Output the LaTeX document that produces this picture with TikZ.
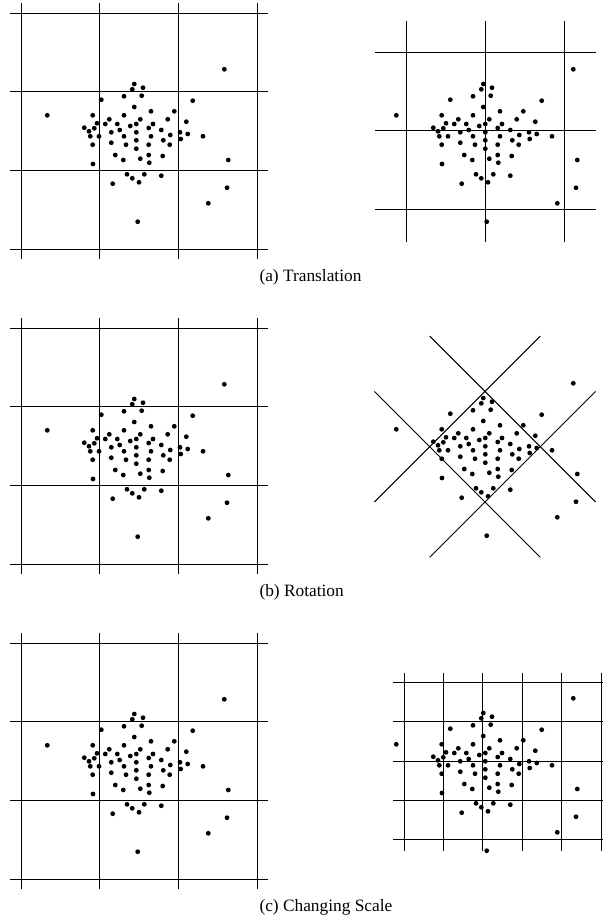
\documentclass[tikz,border=0pt]{standalone}
\usepackage{fontspec}
\setmainfont{Liberation Serif}
\usetikzlibrary{calc}

% the same cloud of points in every panel, at the coordinates of the upper left panel
\newcommand{\pointcloud}{%
  \foreach \px/\py in {224.3/69.3, 134.3/84, 132.3/89.3, 143/87.7, 124/96.3, 141.7/95.7,
      101.3/99.7, 192.7/100.7, 134.3/107, 151/111.3, 174.3/111.3, 47.3/115.3,
      92.7/115.3, 124/115.3, 109.3/119.3, 140.3/119.3, 167.7/119.3, 186.3/121.7,
      97/123.3, 105.3/124, 117.3/124, 136.3/124, 153/124, 130.3/126,
      148.7/128, 84.3/127.7, 94.3/128.3, 89/131.3, 119.7/130, 161.3/130,
      111.3/132.3, 136.3/132.3, 180/132.3, 187.7/134, 90.3/136.3, 99/136.3,
      124/136.3, 151/136.3, 170.3/135, 203/136.3, 180.7/139, 136.3/140.3,
      163.3/140.3, 92.7/144.7, 111.3/142.7, 126/144.7, 148.7/144.7, 169.7/144.7,
      136.3/148.7, 115.3/155, 148.7/155, 162.7/156, 123.3/160, 140.3/158.7,
      149.3/162.7, 228.3/160, 93/164, 127/174.3, 144.3/174.3, 132.3/178.3,
      139/182.3, 161.3/175.7, 112.7/183.7, 227/187.7, 208.3/203.3, 137.7/221.7}
    \fill (\px,\py) circle (2.4);%
}

% the 4x4 grid of the left panels
\newcommand{\squaregrid}{%
  \foreach \i in {0,...,3} {
    \draw (21+78.67*\i,3) -- (21+78.67*\i,259);
    \draw (10,13.3+78.67*\i) -- (268,13.3+78.67*\i);
  }%
}

\begin{document}
\begin{tikzpicture}[x=0.75pt,y=0.75pt,yscale=-1,line width=0.75pt]
\useasboundingbox (0,0) rectangle (605,921);

%Panel: Translation, left
\squaregrid
\pointcloud

%Panel: Translation, right (grid moved by half a cell)
\begin{scope}[shift={(349,0)}]
\foreach \i in {0,...,2} {
  \draw (57.7+78.67*\i,20.7) -- (57.7+78.67*\i,242);
  \draw (26,52.3+78.67*\i) -- (247,52.3+78.67*\i);
}
\pointcloud
\end{scope}

%Panel: Rotation, left
\begin{scope}[shift={(0,315)}]
\squaregrid
\pointcloud
\end{scope}

%Panel: Rotation, right (grid turned by 45 degrees)
\begin{scope}[shift={(349,314)}]
\coordinate (rc) at (136,132.7);
\def\rd{55.3}
\draw ($(rc)+(-\rd,-2*\rd)$) -- ($(rc)+(2*\rd,\rd)$);
\draw ($(rc)+(\rd,-2*\rd)$) -- ($(rc)+(-2*\rd,\rd)$);
\draw ($(rc)+(-2*\rd,-\rd)$) -- ($(rc)+(\rd,2*\rd)$);
\draw ($(rc)+(2*\rd,-\rd)$) -- ($(rc)+(-\rd,2*\rd)$);
\pointcloud
\end{scope}

%Panel: Changing Scale, left
\begin{scope}[shift={(0,630)}]
\squaregrid
\pointcloud
\end{scope}

%Panel: Changing Scale, right (cells of half the size)
\foreach \i in {0,...,5}
  \draw (404+39.4*\i,672.7) -- (404+39.4*\i,850.7);
\foreach \i in {0,...,4}
  \draw (393.3,682.3+39.4*\i) -- (603,682.3+39.4*\i);
\begin{scope}[shift={(349,629)}]
\pointcloud
\end{scope}

% Text Node
\node [anchor=west,inner sep=0pt,font=\fontsize{13}{15}\selectfont] (capa) at (259,277.5) {(a) Translation};
% Text Node
\node [anchor=west,inner sep=0pt,font=\fontsize{13}{15}\selectfont] (capb) at (259,592.5) {(b) Rotation};
% Text Node
\node [anchor=west,inner sep=0pt,font=\fontsize{13}{15}\selectfont] (capc) at (259,907.5) {(c) Changing Scale};

\end{tikzpicture}
\end{document}
